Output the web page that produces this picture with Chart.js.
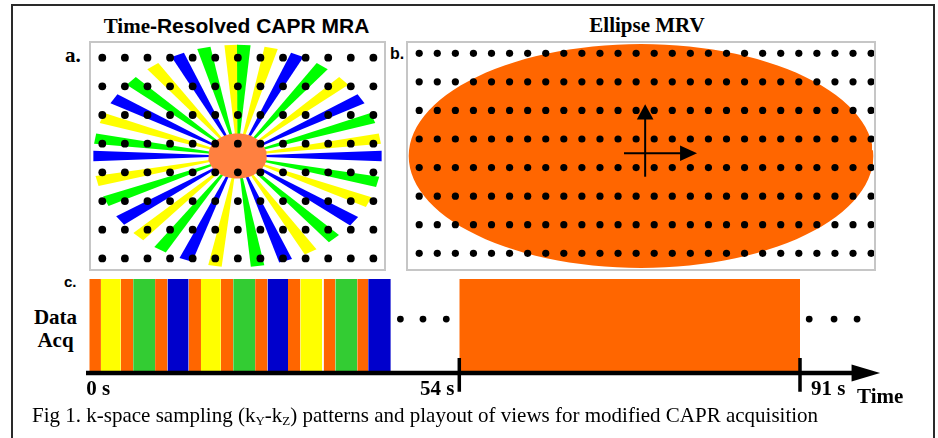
<!DOCTYPE html>
<html>
<head>
<meta charset="utf-8">
<title>CAPR k-space sampling</title>
<script src="https://cdn.jsdelivr.net/npm/chart.js@4.4.1/dist/chart.umd.min.js"></script>
<style>
  html, body { margin: 0; padding: 0; background: #fff; }
  body { position: relative; width: 938px; height: 438px; overflow: hidden; }
  .abs { position: absolute; }
  .frame { left: 11px; top: 4px; width: 924px; height: 470px; border: 2px solid #2a2a2a; box-sizing: border-box; }
  .box { border: 2px solid #c6c6c6; box-sizing: border-box; }
  .box canvas { display: block; }
  .serif { font-family: "Liberation Serif", "Times New Roman", serif; }
  .sans { font-family: "Liberation Sans", Arial, sans-serif; }
  .lbl { line-height: 1; white-space: nowrap; font-weight: bold; color: #000; }
  sub { font-size: 13px; vertical-align: -3px; line-height: 0; }
</style>
</head>
<body>
<div class="abs frame"></div>

<div class="abs lbl serif" style="left:0;width:473px;top:15px;font-size:21px;text-align:center">Time<span class="sans">-Resolved CAPR MRA</span></div>
<div class="abs lbl serif" style="left:547px;width:200px;top:15px;font-size:21px;text-align:center">Ellipse MRV</div>
<div class="abs lbl serif" style="left:65px;top:45px;font-size:21px">a.</div>
<div class="abs lbl sans" style="left:390px;top:46px;font-size:16px">b.</div>
<div class="abs lbl sans" style="left:64px;top:274px;font-size:15px">c.</div>
<div class="abs lbl serif" style="left:25px;width:61px;top:306px;font-size:21px;line-height:23px;text-align:center">Data<br>Acq</div>

<div class="abs box" style="left:89px;top:41px;width:297px;height:230px"><canvas id="capr" width="293" height="226"></canvas></div>
<div class="abs box" style="left:406px;top:41px;width:470px;height:230px"><canvas id="mrv" width="466" height="226"></canvas></div>
<canvas id="timeline" class="abs" width="938" height="140" style="left:0;top:270px"></canvas>

<div class="abs serif" style="left:32px;top:405px;font-size:21px;line-height:1;white-space:nowrap">Fig 1. k-space sampling (k<sub>Y</sub>-k<sub>Z</sub>) patterns and playout of views for modified CAPR acquisition</div>

<script>
// ---- panel a: time-resolved CAPR, ky-kz plane ----
const caprKy = [-6, -5, -4, -3, -2, -1, 0, 1, 2, 3, 4, 5, 6];
const caprKz = [-3.5, -2.5, -1.5, -0.5, 0.5, 1.5, 2.5, 3.5];
// projection angles (deg, counter-clockwise from +ky) and the frame set each one belongs to
const spokeAngles = [0, 9, 20, 31, 42.5, 54, 65.5, 76.5, 87.5, 92.5, 103.5, 114.5, 126, 137.5, 149, 160, 171, 180,
  193, 204, 215.5, 226.5, 237.5, 249, 261, 278, 289.5, 300.5, 312, 324, 335.5, 346.5];
const spokeSets = ["blue", "yellow", "green", "blue", "yellow", "green", "blue", "yellow", "green",
  "yellow", "green", "blue", "yellow", "green", "blue", "yellow", "green", "blue",
  "yellow", "green", "blue", "yellow", "green", "blue", "yellow",
  "green", "blue", "yellow", "green", "blue", "yellow", "green"];
const centreRadius = 0.2;

// ---- panel b: elliptical MRV sampling ----
const mrvKy = [-12.5, -11.5, -10.5, -9.5, -8.5, -7.5, -6.5, -5.5, -4.5, -3.5, -2.5, -1.5, -0.5,
  0.5, 1.5, 2.5, 3.5, 4.5, 5.5, 6.5, 7.5, 8.5, 9.5, 10.5, 11.5, 12.5];
const mrvKz = [-3.5, -2.5, -1.5, -0.5, 0.5, 1.5, 2.5, 3.5];
const mrvEllipseRadius = 1;
const arrowKy = [-1.17, 2.87];
const arrowKz = [-0.82, 1.72];

// ---- panel c: view playout (seconds) ----
const viewStart = [0, 1.7, 4.6, 6.4, 9.6, 11.4, 14.5, 16.3, 19.2, 21.0, 24.2, 26.0, 29.0, 30.8, 34.2, 35.9, 39.1, 40.7];
const viewEnd = [1.7, 4.6, 6.4, 9.6, 11.4, 14.5, 16.3, 19.2, 21.0, 24.2, 26.0, 29.0, 30.8, 34.0, 35.9, 39.1, 40.7, 44.0];
const viewSet = ["centre", "yellow", "centre", "green", "centre", "blue", "centre", "yellow", "centre",
  "green", "centre", "blue", "centre", "yellow", "centre", "green", "centre", "blue"];
const ellipseView = [54, 91];
const timeTicks = [0, 54, 91];
const timeTickLabels = ["0 s", "54 s", "91 s"];
const pauseBefore = [45.4, 48.7, 52.1];
const pauseAfter = [92.0, 94.7, 97.2];

// styles
const spokeColours = { blue: "#0000ff", green: "#00ff00", yellow: "#ffff00" };
const viewColours = { centre: "#ff6600", yellow: "#ffff00", green: "#33cc33", blue: "#0000cc" };
const SPOKE_HALF_WIDTH = 2.7; // deg
const SPOKE_REACH = 0.985;

// time axis is drawn out of scale: each phase gets its own stretch
const timeBreaks = [
  { value: 0, pos: 89.3 / 938 },
  { value: 54, pos: 459.3 / 938 },
  { value: 91, pos: 800 / 938 },
];

class BrokenTimeScale extends Chart.LinearScale {
  static id = "brokenTime";

  getPixelForValue(value) {
    if (value === null || isNaN(value)) return NaN;
    let i = 0;
    while (i < timeBreaks.length - 2 && value > timeBreaks[i + 1].value) i++;
    const a = timeBreaks[i];
    const b = timeBreaks[i + 1];
    const f = a.pos + ((value - a.value) * (b.pos - a.pos)) / (b.value - a.value);
    return this.left + f * this.width;
  }

  getValueForPixel(pixel) {
    const f = (pixel - this.left) / this.width;
    let i = 0;
    while (i < timeBreaks.length - 2 && f > timeBreaks[i + 1].pos) i++;
    const a = timeBreaks[i];
    const b = timeBreaks[i + 1];
    return a.value + ((f - a.pos) * (b.value - a.value)) / (b.pos - a.pos);
  }
}
Chart.register(BrokenTimeScale);

function hidden(type, axis, min, max) {
  return { type, axis, min, max, display: false };
}

function baseOptions(scales, extra) {
  return Object.assign({
    responsive: false,
    animation: false,
    events: [],
    layout: { padding: 0, autoPadding: false },
    plugins: { legend: { display: false }, tooltip: { enabled: false } },
    scales,
  }, extra || {});
}

function shape(points, colour, xAxisID, yAxisID, order) {
  return {
    data: points, xAxisID, yAxisID, order,
    fill: "shape", backgroundColor: colour,
    borderColor: "rgba(0,0,0,0)", borderWidth: 0,
    pointRadius: 0, tension: 0,
  };
}

function gridPoints(xs, ys) {
  const pts = [];
  ys.forEach((y) => xs.forEach((x) => pts.push({ x, y })));
  return pts;
}

function ellipsePoints(rx, ry) {
  const pts = [];
  for (let i = 0; i < 120; i++) {
    const t = (2 * Math.PI * i) / 120;
    pts.push({ x: rx * Math.cos(t), y: ry * Math.sin(t) });
  }
  return pts;
}

function wedge(angle) {
  const a0 = ((angle - SPOKE_HALF_WIDTH) * Math.PI) / 180;
  const a1 = ((angle + SPOKE_HALF_WIDTH) * Math.PI) / 180;
  return [
    { x: 0, y: 0 },
    { x: SPOKE_REACH * Math.cos(a0), y: SPOKE_REACH * Math.sin(a0) },
    { x: SPOKE_REACH * Math.cos(a1), y: SPOKE_REACH * Math.sin(a1) },
  ];
}

function dots(points, xAxisID, yAxisID, radius, order) {
  return {
    data: points, xAxisID, yAxisID, order, showLine: false,
    pointRadius: radius, pointBackgroundColor: "#000", pointBorderWidth: 0,
  };
}

// ---- panel a ----
const caprDatasets = [dots(gridPoints(caprKy, caprKz), "xGrid", "yGrid", 3.9, 0)];
caprDatasets.push(shape(ellipsePoints(centreRadius, centreRadius), "#ff8040", "x", "y", 1));
spokeAngles.forEach((a, i) => {
  caprDatasets.push(shape(wedge(a), spokeColours[spokeSets[i]], "x", "y", 2));
});

new Chart(document.getElementById("capr"), {
  type: "line",
  data: { datasets: caprDatasets },
  options: baseOptions({
    x: hidden("linear", "x", -1, 1),
    y: hidden("linear", "y", -1, 1),
    xGrid: hidden("linear", "x", -6.5, 6.47),
    yGrid: hidden("linear", "y", -3.87, 4.01),
  }),
});

// ---- panel b ----
const arrowLine = (pts) => ({
  data: pts, xAxisID: "xGrid", yAxisID: "yGrid", order: 0,
  borderColor: "#000", borderWidth: 2, pointRadius: 0, fill: false,
});
const mrvDatasets = [
  arrowLine([{ x: 0, y: arrowKz[0] }, { x: 0, y: arrowKz[1] - 0.5 }]),
  arrowLine([{ x: arrowKy[0], y: 0 }, { x: arrowKy[1] - 0.9, y: 0 }]),
  shape([{ x: -0.46, y: arrowKz[1] - 0.54 }, { x: 0, y: arrowKz[1] }, { x: 0.46, y: arrowKz[1] - 0.54 }], "#000", "xGrid", "yGrid", 0),
  shape([{ x: arrowKy[1] - 0.94, y: 0.27 }, { x: arrowKy[1], y: 0 }, { x: arrowKy[1] - 0.94, y: -0.27 }], "#000", "xGrid", "yGrid", 0),
  dots(gridPoints(mrvKy, mrvKz), "xGrid", "yGrid", 3.6, 1),
  shape(ellipsePoints(mrvEllipseRadius, mrvEllipseRadius), "#ff6600", "x", "y", 2),
];

new Chart(document.getElementById("mrv"), {
  type: "line",
  data: { datasets: mrvDatasets },
  options: baseOptions({
    x: hidden("linear", "x", -1.003, 1.003),
    y: hidden("linear", "y", -1.01, 1.01),
    xGrid: hidden("linear", "x", -13.12, 12.66),
    yGrid: hidden("linear", "y", -4.05, 3.86),
  }),
});

// ---- panel c ----
const block = (start, end, colour) => ({
  data: [{ x: start, y: 1 }, { x: end, y: 1 }], order: 2,
  fill: "origin", backgroundColor: colour,
  borderColor: "rgba(0,0,0,0)", borderWidth: 0, pointRadius: 0,
});
const timeDatasets = [];
viewStart.forEach((s, i) => timeDatasets.push(block(s, viewEnd[i], viewColours[viewSet[i]])));
timeDatasets.push(block(ellipseView[0], ellipseView[1], viewColours.centre));

// time axis with arrow
timeDatasets.push({
  data: [{ x: -0.48, y: 0 }, { x: 96.8, y: 0 }], order: 0,
  borderColor: "#000", borderWidth: 4.5, borderCapStyle: "butt", pointRadius: 0, fill: false,
});
timeDatasets.push({
  data: [{ x: 96.6, y: 0.09 }, { x: 99.7, y: 0 }, { x: 96.6, y: -0.09 }], order: 0,
  fill: "shape", backgroundColor: "#000", borderColor: "rgba(0,0,0,0)", borderWidth: 0, pointRadius: 0,
});
timeTicks.slice(1).forEach((t) => {
  timeDatasets.push({
    data: [{ x: t, y: 0.16 }, { x: t, y: -0.2 }], order: 0,
    borderColor: "#000", borderWidth: 3.5, borderCapStyle: "butt", pointRadius: 0, fill: false,
  });
});
timeDatasets.push({
  data: pauseBefore.concat(pauseAfter).map((x) => ({ x, y: 0.574 })), order: 0,
  showLine: false, pointRadius: 3.4, pointBackgroundColor: "#000", pointBorderWidth: 0,
});

const timeLabels = {
  id: "timeLabels",
  afterDraw(chart) {
    const ctx = chart.ctx;
    const xs = chart.scales.x;
    const ys = chart.scales.y;
    const base = ys.getPixelForValue(0);
    ctx.save();
    ctx.fillStyle = "#000";
    ctx.font = 'bold 21px "Liberation Serif", serif';
    ctx.textBaseline = "alphabetic";
    timeTicks.forEach((t, i) => {
      const px = xs.getPixelForValue(t);
      if (i === 1) {
        ctx.textAlign = "right";
        ctx.fillText(timeTickLabels[i], px - 5, base + 22);
      } else {
        ctx.textAlign = "left";
        ctx.fillText(timeTickLabels[i], px + (i === 0 ? -3 : 11), base + 22);
      }
    });
    ctx.textAlign = "left";
    ctx.fillText("Time", xs.getPixelForValue(99.7) - 23, base + 30);
    ctx.restore();
  },
};

new Chart(document.getElementById("timeline"), {
  type: "line",
  data: { datasets: timeDatasets },
  options: baseOptions({
    x: hidden("brokenTime", "x", -10, 110),
    y: hidden("linear", "y", -0.3936, 1.0957),
  }),
  plugins: [timeLabels],
});
</script>
</body>
</html>
